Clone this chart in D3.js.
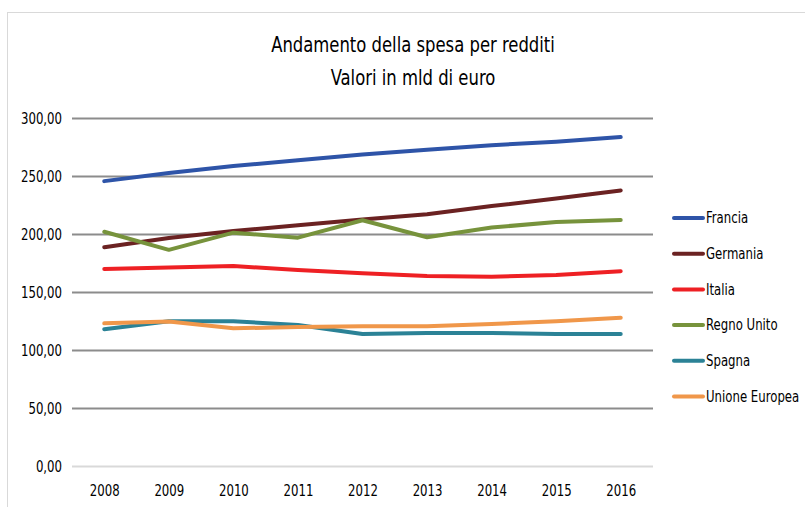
<!DOCTYPE html>
<html>
<head>
<meta charset="utf-8">
<script src="https://cdn.jsdelivr.net/npm/d3@7"></script>
<style>
  body { margin: 0; background: #fff; }
  text { font-family: "Liberation Sans Narrow", "DejaVu Sans Condensed", "Noto Sans", sans-serif; fill: #000; }
</style>
</head>
<body>
<script>
// Data
let years = ["2008", "2009", "2010", "2011", "2012", "2013", "2014", "2015", "2016"];
let countries = ["Francia", "Germania", "Italia", "Regno Unito", "Spagna", "Unione Europea"];
let francia = [246, 253, 259, 264, 269, 273, 277, 280, 284];
let germania = [189, 197, 203, 208, 213, 217.5, 224.5, 231, 238];
let italia = [170.3, 171.5, 172.8, 169.4, 166.5, 164.2, 163.6, 165, 168.3];
let regnoUnito = [202.4, 186.8, 201.6, 197.3, 212.3, 197.6, 206, 210.8, 212.5];
let spagna = [118.3, 125.3, 125.2, 122, 114.2, 115, 115, 114.3, 114.3];
let unioneEuropea = [123.4, 125, 119.1, 120.3, 121, 121, 122.8, 125.3, 128.3];
let yTicks = [0, 50, 100, 150, 200, 250, 300];
let colors = ["#2E54A8", "#6B2222", "#EE2024", "#77933C", "#2B8296", "#F0974A"];

let seriesValues = [francia, germania, italia, regnoUnito, spagna, unioneEuropea];
let series = countries.map((name, i) => ({
    name: name,
    color: colors[i],
    values: seriesValues[i].map((v, j) => ({ year: years[j], value: v }))
}));

let width = 805, height = 507;
// narrow the font horizontally, like the original condensed typeface
let squeeze = "scale(0.87,1)";

let svg = d3.select("body").append("svg")
    .attr("width", width)
    .attr("height", height);

// chart area border
svg.append("rect")
    .attr("x", 7.5).attr("y", 12.5)
    .attr("width", 820).attr("height", 520)
    .attr("fill", "none")
    .attr("stroke", "#d9d9d9");

// Scales
let x = d3.scalePoint().domain(years).range([72, 653]).padding(0.5);
let y = d3.scaleLinear().domain([0, 300]).range([466.5, 118.5]);

// Gridlines
svg.selectAll(".grid")
    .data(yTicks)
    .enter().append("line")
    .attr("class", "grid")
    .attr("x1", 72).attr("x2", 653)
    .attr("y1", d => y(d)).attr("y2", d => y(d))
    .attr("stroke", d => d === 0 ? "#d9d9d9" : "#8c8c8c")
    .attr("stroke-width", 2);

// Y axis labels
let fmt = d => d3.format(".2f")(d).replace(".", ",");
let yAxis = svg.append("g")
    .attr("transform", "translate(62,0)")
    .call(d3.axisLeft(y).tickValues(yTicks).tickFormat(fmt).tickSize(0).tickPadding(0));
yAxis.select(".domain").remove();
yAxis.selectAll("text")
    .attr("x", 0)
    .attr("transform", squeeze)
    .style("font-size", "15px")
    .attr("dy", "0.35em");

// X axis labels
let xAxis = svg.append("g")
    .attr("transform", "translate(0,484)")
    .call(d3.axisBottom(x).tickSize(0).tickPadding(0));
xAxis.select(".domain").remove();
xAxis.selectAll("text")
    .attr("transform", squeeze)
    .style("font-size", "15px")
    .attr("dy", "0.8em");

// Lines
let line = d3.line()
    .x(d => x(d.year))
    .y(d => y(d.value));

svg.selectAll(".series")
    .data(series)
    .enter().append("path")
    .attr("class", "series")
    .attr("d", d => line(d.values))
    .attr("fill", "none")
    .attr("stroke", d => d.color)
    .attr("stroke-width", 4)
    .attr("stroke-linejoin", "round")
    .attr("stroke-linecap", "round");

// Title
svg.append("text")
    .attr("transform", "translate(413,52) " + squeeze)
    .attr("text-anchor", "middle")
    .style("font-size", "21px")
    .text("Andamento della spesa per redditi");
svg.append("text")
    .attr("transform", "translate(413,85) " + squeeze)
    .attr("text-anchor", "middle")
    .style("font-size", "21px")
    .text("Valori in mld di euro");

// Legend
let legend = svg.selectAll(".legend")
    .data(series)
    .enter().append("g")
    .attr("class", "legend")
    .attr("transform", (d, i) => "translate(673," + (218 + i * 35.7) + ")");

legend.append("line")
    .attr("x1", 1).attr("x2", 30)
    .attr("stroke", d => d.color)
    .attr("stroke-width", 4)
    .attr("stroke-linecap", "round");

legend.append("text")
    .attr("transform", "translate(33,0) " + squeeze)
    .attr("dy", "0.35em")
    .style("font-size", "15px")
    .text(d => d.name);
</script>
</body>
</html>
